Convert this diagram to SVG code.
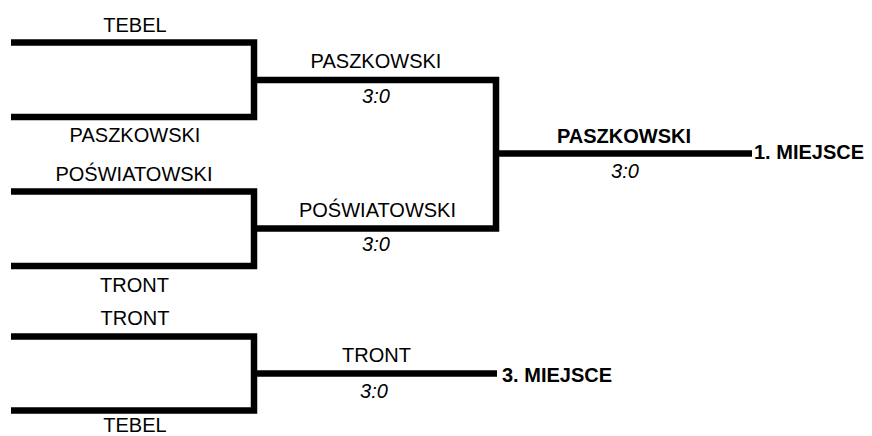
<svg xmlns="http://www.w3.org/2000/svg" width="872" height="436" viewBox="0 0 872 436">
<style>
.ln{fill:none;stroke:#000;stroke-width:6.5;stroke-linejoin:miter;stroke-linecap:butt}
text{font-family:"Liberation Sans",Arial,sans-serif;font-size:20px;fill:#000;text-anchor:middle}
.b{font-weight:bold}
.i{font-style:italic}
.s{text-anchor:start}
</style>
<rect width="872" height="436" fill="#fff"/>
<g id="connectors">
<polyline class="ln" points="11,42.5 254,42.5 254,117 11,117"/>
<polyline class="ln" points="11,191.5 254,191.5 254,266 11,266"/>
<polyline class="ln" points="11,336.5 254,336.5 254,410.5 11,410.5"/>
<polyline class="ln" points="254,80 496,80 496,228.5 254,228.5"/>
<line class="ln" x1="496" y1="153.5" x2="752" y2="153.5"/>
<line class="ln" x1="254" y1="373.5" x2="497" y2="373.5"/>
</g>
<g id="r1m1">
<text x="135" y="32">TEBEL</text>
<text x="135" y="141.5">PASZKOWSKI</text>
</g>
<g id="r1m2">
<text x="134" y="181">POŚWIATOWSKI</text>
<text x="134.5" y="291.5">TRONT</text>
</g>
<g id="r1m3">
<text x="135" y="325">TRONT</text>
<text x="135" y="432">TEBEL</text>
</g>
<g id="r2m1">
<text x="376" y="68">PASZKOWSKI</text>
<text class="i" x="376" y="103">3:0</text>
</g>
<g id="r2m2">
<text x="377.5" y="216.5">POŚWIATOWSKI</text>
<text class="i" x="376" y="251">3:0</text>
</g>
<g id="final">
<text class="b" x="624" y="143">PASZKOWSKI</text>
<text class="i" x="625" y="178">3:0</text>
<text class="b s" x="754" y="158.5">1. MIEJSCE</text>
</g>
<g id="third">
<text x="376.5" y="361.5">TRONT</text>
<text class="i" x="374" y="398">3:0</text>
<text class="b s" x="502" y="381.5">3. MIEJSCE</text>
</g>
</svg>
